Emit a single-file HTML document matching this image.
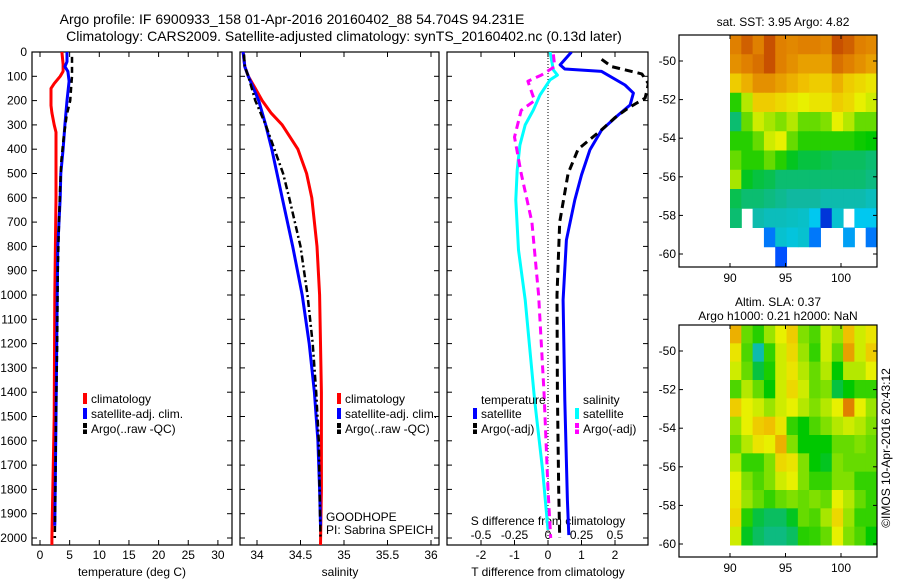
<!DOCTYPE html>
<html><head><meta charset="utf-8"><style>
html,body{margin:0;padding:0;background:#fff}
svg{display:block;font-family:"Liberation Sans",sans-serif}
text{fill:#000}
</style></head><body>
<svg id="fig" width="900" height="580" viewBox="0 0 900 580" xmlns="http://www.w3.org/2000/svg">
<text x="292" y="24" font-size="14" text-anchor="middle">Argo profile: IF 6900933_158 01-Apr-2016 20160402_88 54.704S 94.231E</text>
<text x="344" y="41" font-size="14" text-anchor="middle">Climatology: CARS2009. Satellite-adjusted climatology: synTS_20160402.nc (0.13d later)</text>
<g id="g"></g>
</svg>
<script>
// ---- data ----
const depthTicks=[0,100,200,300,400,500,600,700,800,900,1000,1100,1200,1300,1400,1500,1600,1700,1800,1900,2000];
const tTicks=[0,5,10,15,20,25,30];
const sTicks=[34,34.5,35,35.5,36];
const dTTicks=[-2,-1,0,1,2];
const dSTicks=[-0.5,-0.25,0,0.25,0.5];
const tClimD=[0,50,80,100,130,150,220,250,300,330,600,1000,1500,2000,2030];
const tClimV=[3.7,3.9,3.9,3.4,2.4,1.85,1.85,2.0,2.4,2.7,2.7,2.5,2.4,2.0,2.0];
const tSatD=[0,40,60,80,120,200,300,400,500,600,700,800,1000,1500,1950];
const tSatV=[4.55,4.55,4.2,4.7,4.9,4.55,4.2,3.9,3.5,3.4,3.2,3.0,2.9,2.7,2.5];
const tArgoD=[20,60,100,130,200,260,350,450,550,700,900,1200,1500,1800,2000];
const tArgoV=[5.4,5.4,5.4,5.3,5.1,4.5,4.0,3.6,3.4,3.2,3.0,2.9,2.7,2.6,2.5];
const sClimD=[0,60,100,150,200,250,300,400,500,600,800,1000,1400,1800,2030];
const sClimV=[33.84,33.86,33.9,33.98,34.06,34.16,34.29,34.47,34.57,34.63,34.69,34.72,34.74,34.74,34.73];
const sSatD=[0,60,100,150,200,300,400,500,600,800,1000,1200,1400,1600,1800,1950];
const sSatV=[33.84,33.86,33.9,33.96,34.02,34.1,34.17,34.23,34.29,34.41,34.52,34.6,34.66,34.7,34.72,34.73];
const sArgoD=[10,60,100,150,200,300,400,500,600,800,1000,1200,1400,1600,1800,2000];
const sArgoV=[33.85,33.86,33.9,33.94,33.98,34.1,34.2,34.3,34.37,34.5,34.58,34.64,34.68,34.71,34.72,34.73];
const dTSatD=[0,53,70,80,136,169,218,259,321,403,506,609,774,1020,1432,1844,1988];
const dTSatV=[0.7,0.36,0.5,1.6,2.3,2.55,2.45,2.1,1.6,1.25,1.0,0.8,0.55,0.45,0.5,0.58,0.62];
const dTArgoD=[30,60,90,130,190,230,270,320,400,500,700,1000,1400,1800,2000];
const dTArgoV=[1.6,1.9,2.8,3.0,2.9,2.4,2.0,1.6,0.9,0.6,0.35,0.27,0.28,0.32,0.35];
const dSSatD=[0,74,95,115,177,239,300,383,486,609,815,1020,1432,1720,1967];
const dSSatV=[0.015,0.04,0.07,0.015,-0.06,-0.11,-0.17,-0.21,-0.23,-0.24,-0.22,-0.17,-0.1,-0.04,0.0];
const dSArgoD=[10,60,95,120,200,240,350,500,700,1000,1400,1800,2000];
const dSArgoV=[0.04,0.05,-0.05,-0.15,-0.1,-0.2,-0.25,-0.2,-0.12,-0.07,-0.03,0.0,0.02];
const latTicks=[-50,-52,-54,-56,-58,-60];
const lonTicks=[90,95,100];
const sstGrid=[
[0.86,0.9,0.86,0.92,0.86,0.85,0.86,0.86,0.85,0.92,0.9,0.86,0.85],
[0.84,0.86,0.88,0.92,0.86,0.84,0.82,0.82,0.82,0.88,0.86,0.84,0.82],
[0.76,0.8,0.84,0.84,0.82,0.8,0.78,0.76,0.76,0.8,0.76,0.74,0.72],
[0.55,0.66,0.76,0.76,0.74,0.72,0.7,0.72,0.72,0.76,0.74,0.7,0.68],
[0.45,0.6,0.68,0.65,0.62,0.66,0.6,0.6,0.62,0.7,0.66,0.6,0.6],
[0.55,0.55,0.6,0.68,0.7,0.6,0.55,0.55,0.55,0.55,0.55,0.53,0.52],
[0.6,0.55,0.55,0.6,0.55,0.5,0.48,0.48,0.47,0.46,0.46,0.46,0.45],
[0.65,0.5,0.48,0.47,0.45,0.45,0.45,0.45,0.45,0.45,0.45,0.45,0.44],
[0.47,0.45,0.45,0.44,0.43,0.42,0.42,0.42,0.4,0.4,0.4,0.4,0.38],
[0.45,-1,0.4,0.38,0.38,0.37,0.36,0.3,0.1,0.35,-1,0.3,0.3],
[-1,-1,-1,0.2,0.35,0.33,0.35,0.2,-1,-1,0.25,-1,0.2],
[-1,-1,-1,-1,0.15,-1,-1,-1,-1,-1,-1,-1,-1]];
const slaGrid=[
[0.8,0.6,0.55,0.64,0.7,0.76,0.62,0.58,0.68,0.64,0.78,0.68,0.72],
[0.72,0.58,0.4,0.56,0.68,0.74,0.64,0.56,0.68,0.6,0.82,0.68,0.76],
[0.68,0.6,0.48,0.54,0.68,0.72,0.66,0.6,0.66,0.52,0.66,0.66,0.7],
[0.58,0.66,0.6,0.52,0.68,0.74,0.68,0.6,0.62,0.48,0.52,0.56,0.56],
[0.76,0.7,0.68,0.64,0.68,0.7,0.66,0.62,0.66,0.7,0.86,0.7,0.64],
[0.64,0.7,0.76,0.78,0.72,0.56,0.52,0.58,0.62,0.66,0.68,0.66,0.62],
[0.6,0.66,0.72,0.7,0.8,0.62,0.52,0.52,0.52,0.6,0.6,0.62,0.6],
[0.66,0.56,0.56,0.62,0.74,0.72,0.62,0.52,0.5,0.62,0.6,0.6,0.6],
[0.7,0.62,0.58,0.62,0.68,0.7,0.62,0.56,0.56,0.62,0.62,0.56,0.56],
[0.72,0.64,0.6,0.56,0.6,0.62,0.6,0.62,0.6,0.7,0.66,0.6,0.56],
[0.74,0.55,0.48,0.46,0.46,0.5,0.6,0.58,0.65,0.74,0.64,0.56,0.56],
[0.68,0.5,0.46,0.44,0.44,0.46,0.55,0.56,0.6,0.7,0.62,0.58,0.52]];

const NS='http://www.w3.org/2000/svg';
const G=document.getElementById('g');
function el(tag,attrs,parent){const e=document.createElementNS(NS,tag);for(const k in attrs)e.setAttribute(k,attrs[k]);(parent||G).appendChild(e);return e;}
function txt(s,x,y,size,anchor,parent){const t=el('text',{x:x,y:y,'font-size':size,'text-anchor':anchor||'middle'},parent);t.textContent=s;return t;}
const yD=d=>52+d*0.243;
const xT=v=>40+v*5.93;
const xS=v=>257+(v-34)*87;
const xdT=v=>548+v*33.5;
const xdS=v=>548+v*134;

function frame(x0,x1,y0,y1,name){
  const r=el('rect',{x:x0,y:y0,width:x1-x0,height:y1-y0,fill:'none',stroke:'#000','stroke-width':1.2});
  
  
}
function depthAxis(x0,x1,labels){
  depthTicks.forEach(d=>{const y=yD(d);
    el('line',{x1:x0,y1:y,x2:x0+5,y2:y,stroke:'#000'});
    el('line',{x1:x1,y1:y,x2:x1-5,y2:y,stroke:'#000'});
    if(labels){const t=txt(String(d),x0-5,y+4,12,'end');
      
      }
  });
}
function xAxis(ticks,fx,x0,x1,labelY){
  ticks.forEach(v=>{const x=fx(v);
    el('line',{x1:x,y1:545,x2:x,y2:540,stroke:'#000'});
    el('line',{x1:x,y1:52,x2:x,y2:57,stroke:'#000'});
    const t=txt(String(v),x,labelY,12);
    
    
  });
}
function line(D,V,fx,color,w,dash,name,parent){
  const pts=D.map((d,i)=>fx(V[i]).toFixed(1)+','+yD(d).toFixed(1)).join(' ');
  const a={points:pts,fill:'none',stroke:color,'stroke-width':w,'stroke-linejoin':'round'};
  if(dash)a['stroke-dasharray']=dash;
  const p=el('polyline',a,parent);
  
  
}
function legendItem(x,y,color,label,dashed,name){
  const g=el('g',{});
  
  
  el('rect',{x:x,y:y-10,width:4,height:11,fill:color},g);
  if(dashed)el('rect',{x:x,y:y-5,width:4,height:1.5,fill:'#fff'},g);
  txt(label,x+8,y,12,'start',g);
}

const defs=el('defs',{});
[['c1',32,232],['c2',240,439],['c3',447,648]].forEach(c=>{const cp=el('clipPath',{id:c[0]},defs);el('rect',{x:c[1],y:52,width:c[2]-c[1],height:493},cp);});

// ---- panel 1 temperature ----
frame(32,232,52,545,'temperature-axes');
depthAxis(32,232,true);
xAxis(tTicks,xT,32,232,559);
{const t=txt('temperature (deg C)',132,576,12);}
const p1=el('g',{'clip-path':'url(#c1)'});
line(tClimD,tClimV,xT,'#ff0000',3,null,'temp-climatology-line',p1);
line(tSatD,tSatV,xT,'#0000ff',3,null,'temp-satellite-line',p1);
line(tArgoD,tArgoV,xT,'#000',2.5,'6,4','temp-argo-line',p1);
legendItem(83,403,'#ff0000','climatology',false,'legend-climatology');
legendItem(83,418,'#0000ff','satellite-adj. clim.',false,'legend-satellite');
legendItem(83,433,'#000','Argo(..raw -QC)',true,'legend-argo');

// ---- panel 2 salinity ----
frame(240,439,52,545,'salinity-axes');
depthAxis(240,439,false);
xAxis(sTicks,xS,240,439,559);
{const t=txt('salinity',340,576,12);}
const p2=el('g',{'clip-path':'url(#c2)'});
line(sClimD,sClimV,xS,'#ff0000',3,null,'sal-climatology-line',p2);
line(sSatD,sSatV,xS,'#0000ff',3,null,'sal-satellite-line',p2);
line(sArgoD,sArgoV,xS,'#000',2.5,'7,3,2,3','sal-argo-line',p2);
legendItem(337,403,'#ff0000','climatology',false,'legend-climatology-2');
legendItem(337,418,'#0000ff','satellite-adj. clim.',false,'legend-satellite-2');
legendItem(337,433,'#000','Argo(..raw -QC)',true,'legend-argo-2');
txt('GOODHOPE',326,521,12,'start');
txt('PI: Sabrina SPEICH',326,534,12,'start');

// ---- panel 3 differences ----
frame(447,648,52,545,'difference-axes');
depthAxis(447,648,false);
el('line',{x1:548,y1:52,x2:548,y2:545,stroke:'#000','stroke-dasharray':'1,2'});
dTTicks.forEach(v=>{const x=xdT(v);el('line',{x1:x,y1:545,x2:x,y2:540,stroke:'#000'});el('line',{x1:x,y1:52,x2:x,y2:57,stroke:'#000'});
  const t=txt(String(v),x,559,12);});
dSTicks.forEach(v=>{const t=txt(String(v),xdS(v),539,12);});
txt('S difference from climatology',548,525,12);
txt('T difference from climatology',548,576,12);
const p3=el('g',{'clip-path':'url(#c3)'});
line(dTSatD,dTSatV,xdT,'#0000ff',3,null,'dT-satellite-line',p3);
line(dTArgoD,dTArgoV,xdT,'#000',3,'8,5','dT-argo-line',p3);
line(dSSatD,dSSatV,xdS,'#00ffff',3,null,'dS-satellite-line',p3);
line(dSArgoD,dSArgoV,xdS,'#ff00ff',3,'8,5','dS-argo-line',p3);
txt('temperature',481,404,12,'start');
legendItem(473,418,'#0000ff','satellite',false,'legend-dT-satellite');
legendItem(473,433,'#000','Argo(-adj)',true,'legend-dT-argo');
txt('salinity',583,404,12,'start');
legendItem(575,418,'#00ffff','satellite',false,'legend-dS-satellite');
legendItem(575,433,'#ff00ff','Argo(-adj)',true,'legend-dS-argo');

// ---- maps ----
const stops=[[0,[0,0,140]],[0.15,[0,80,255]],[0.3,[0,200,240]],[0.42,[16,184,160]],[0.52,[0,200,0]],[0.62,[128,224,0]],[0.7,[232,240,0]],[0.78,[240,192,0]],[0.86,[224,128,0]],[0.94,[192,64,0]],[1,[160,20,0]]];
function cmap(v){for(let i=1;i<stops.length;i++){if(v<=stops[i][0]){const a=stops[i-1],b=stops[i],t=(v-a[0])/(b[0]-a[0]);const c=a[1].map((q,k)=>Math.round(q+(b[1][k]-q)*t));return 'rgb('+c.join(',')+')';}}return 'rgb(160,20,0)';}
function map(grid,y0,y1,lat50,lat60,name,fy0,fy1){
  const x0=730,x1=877;
  const g=el('g',{});
  
  
  const cw=(x1-x0)/grid[0].length, ch=(y1-y0)/grid.length;
  grid.forEach((row,r)=>row.forEach((v,c)=>{if(v<0)return;
    const cell=el('rect',{x:(x0+c*cw).toFixed(2),y:(y0+r*ch).toFixed(2),width:(cw+0.5).toFixed(2),height:(ch+0.5).toFixed(2),fill:cmap(v)},g);
    
    }));
  const ly=l=>lat50+(l+50)/-10*(lat60-lat50);
  const lx=l=>730+(l-90)*11.1;
  latTicks.forEach(l=>{const y=ly(l);el('line',{x1:679,y1:y,x2:683,y2:y,stroke:'#000'});el('line',{x1:877,y1:y,x2:873,y2:y,stroke:'#000'});
    const t=txt(String(l),676,y+4,12,'end');});
  lonTicks.forEach(l=>{const x=lx(l);el('line',{x1:x,y1:fy1,x2:x,y2:fy1-4,stroke:'#000'});el('line',{x1:x,y1:fy0,x2:x,y2:fy0+4,stroke:'#000'});
    const t=txt(String(l),x,fy1+15,12);});
  frame(679,877,fy0,fy1,name+'-frame');
}
map(sstGrid,35,266,61,254,'sst-map',35,267);
map(slaGrid,325,545,351,544,'sla-map',325,557);
txt('sat. SST: 3.95 Argo: 4.82',783,26,12);
txt('Altim. SLA: 0.37',778,306,12);
txt('Argo h1000: 0.21 h2000: NaN',778,320,12);
const rt=txt('©IMOS 10-Apr-2016 20:43:12',0,0,12);
rt.setAttribute('transform','translate(890,448) rotate(-90)');


</script>
</body></html>
